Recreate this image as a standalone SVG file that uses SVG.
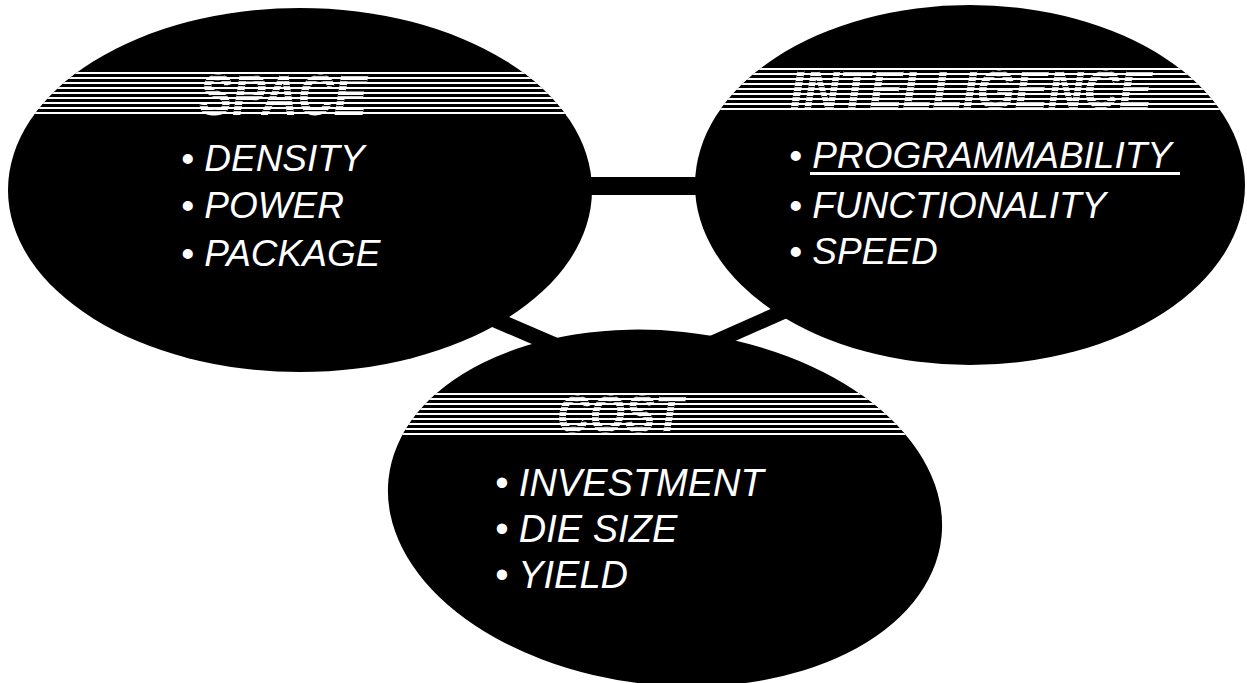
<svg xmlns="http://www.w3.org/2000/svg" width="1247" height="683" viewBox="0 0 1247 683">
<style>
.blob{fill:#000}
.item{font-family:"Liberation Sans",Arial,sans-serif;font-style:italic;font-size:37px;fill:#fff}
.head{font-family:"Liberation Sans",Arial,sans-serif;font-style:italic;font-weight:bold}
.headfill{fill:#fff}
.conn{stroke:#000;stroke-width:16;fill:none}
.band{fill:url(#stripes)}
.thin{fill:url(#thinlines)}
</style>
<defs>
<pattern id="stripes" patternUnits="userSpaceOnUse" x="0" y="0" width="1247" height="5"><rect width="1247" height="5" fill="#fff"/><rect y="2" width="1247" height="3" fill="#000"/></pattern>
<pattern id="thinlines" patternUnits="userSpaceOnUse" x="0" y="0" width="1247" height="5"><rect y="3" width="1247" height="1.2" fill="#000"/></pattern>
<clipPath id="cSpace"><ellipse cx="300" cy="190" rx="292" ry="182"/></clipPath>
<clipPath id="cIntel"><ellipse cx="970" cy="185" rx="275" ry="180"/></clipPath>
<clipPath id="cCost"><ellipse cx="665" cy="508" rx="278" ry="177" transform="rotate(6 665 508)"/></clipPath>
<clipPath id="tSpace"><text class="head" x="199" y="115" font-size="58" textLength="168" lengthAdjust="spacingAndGlyphs">SPACE</text></clipPath>
<clipPath id="tIntel"><text class="head" x="790" y="108" font-size="53" textLength="362" lengthAdjust="spacingAndGlyphs">INTELLIGENCE</text></clipPath>
<clipPath id="tCost"><text class="head" x="557" y="432" font-size="52" textLength="126" lengthAdjust="spacingAndGlyphs">COST</text></clipPath>
</defs>
<rect width="1247" height="683" fill="#fff"/>
<g id="connectors">
<line class="conn" x1="400" y1="186" x2="900" y2="186" style="stroke-width:18"/>
<line class="conn" x1="380" y1="270" x2="640" y2="382"/>
<line class="conn" x1="640" y1="375" x2="900" y2="260" style="stroke-width:15"/>
</g>
<g id="space">
<ellipse class="blob" cx="300" cy="190" rx="292" ry="182"/>
<g clip-path="url(#cSpace)"><g transform="translate(0,72)"><rect class="band" x="0" y="0" width="1247" height="43"/></g></g>
<text class="head headfill" x="199" y="115" font-size="58" textLength="168" lengthAdjust="spacingAndGlyphs">SPACE</text>
<g clip-path="url(#tSpace)"><g transform="translate(0,72)"><rect class="thin" x="0" y="0" width="1247" height="43"/></g></g>
<text class="item" x="181" y="171">• DENSITY</text>
<text class="item" x="181" y="218">• POWER</text>
<text class="item" x="181" y="266">• PACKAGE</text>
</g>
<g id="intelligence">
<ellipse class="blob" cx="970" cy="185" rx="275" ry="180"/>
<g clip-path="url(#cIntel)"><g transform="translate(0,68)"><rect class="band" x="0" y="0" width="1247" height="42"/></g></g>
<text class="head headfill" x="790" y="108" font-size="53" textLength="362" lengthAdjust="spacingAndGlyphs">INTELLIGENCE</text>
<g clip-path="url(#tIntel)"><g transform="translate(0,68)"><rect class="thin" x="0" y="0" width="1247" height="42"/></g></g>
<text class="item" x="789" y="168">• PROGRAMMABILITY</text>
<rect x="810" y="172" width="370" height="3" fill="#fff"/>
<text class="item" x="789" y="218">• FUNCTIONALITY</text>
<text class="item" x="789" y="264">• SPEED</text>
</g>
<g id="cost">
<ellipse class="blob" cx="665" cy="508" rx="278" ry="177" transform="rotate(6 665 508)"/>
<g clip-path="url(#cCost)"><g transform="translate(0,393)"><rect class="band" x="0" y="0" width="1247" height="42"/></g></g>
<text class="head headfill" x="557" y="432" font-size="52" textLength="126" lengthAdjust="spacingAndGlyphs">COST</text>
<g clip-path="url(#tCost)"><g transform="translate(0,393)"><rect class="thin" x="0" y="0" width="1247" height="42"/></g></g>
<text class="item" x="495" y="496" style="font-size:38px">• INVESTMENT</text>
<text class="item" x="495" y="542" style="font-size:38px">• DIE SIZE</text>
<text class="item" x="495" y="588" style="font-size:38px">• YIELD</text>
</g>
</svg>
